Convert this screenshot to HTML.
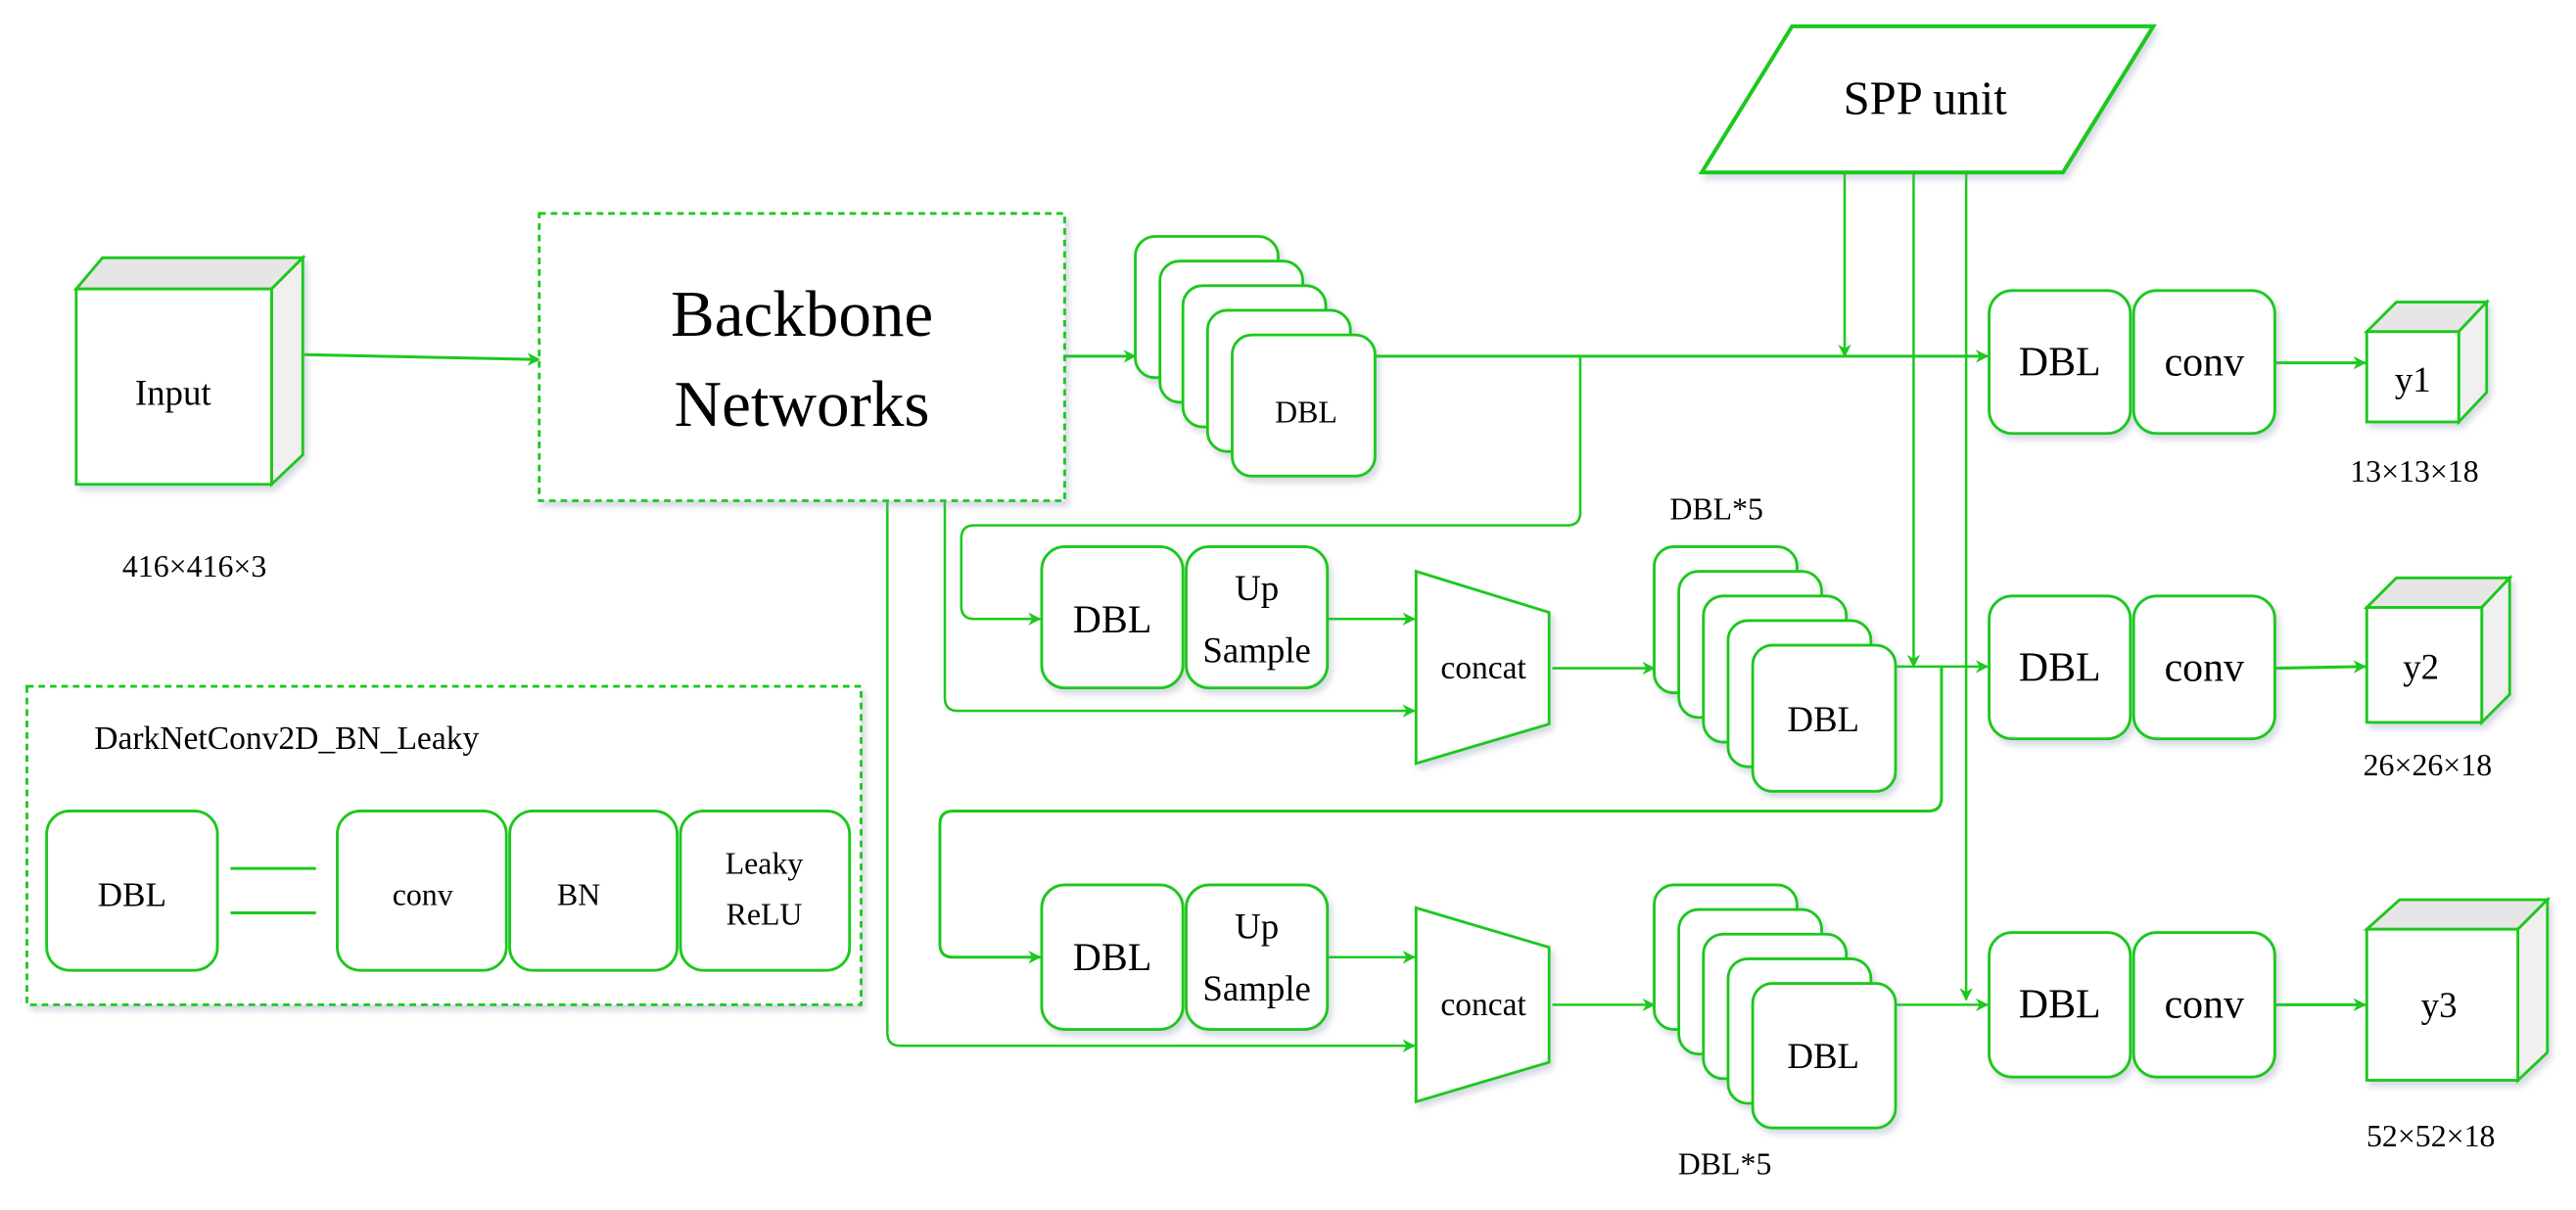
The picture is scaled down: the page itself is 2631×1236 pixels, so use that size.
<!DOCTYPE html>
<html><head><meta charset="utf-8"><style>
html,body{margin:0;padding:0;background:#fff;}
svg{display:block;}
svg text{font-family:"Liberation Serif","DejaVu Serif",serif;fill:#000;text-anchor:middle;dominant-baseline:central;}
</style></head><body>
<svg width="2631" height="1236" viewBox="0 0 1568 737" xmlns="http://www.w3.org/2000/svg" font-family="Liberation Serif, DejaVu Serif, serif">
<defs>
<marker id="a" viewBox="0 0 10 10" refX="9" refY="5" markerWidth="8" markerHeight="8" markerUnits="userSpaceOnUse" orient="auto"><path d="M0,0 L10,5 L0,10 L3,5 z" fill="#1ec81e"/></marker>
<filter id="sh" x="-10%" y="-10%" width="130%" height="130%"><feDropShadow dx="2" dy="3" stdDeviation="2" flood-color="#8890b0" flood-opacity="0.35"/></filter>
</defs>
<g fill="none" stroke="#1ec81e" stroke-width="1.5">
<line x1="185" y1="216" x2="328" y2="219" stroke-width="1.8" marker-end="url(#a)"/>
<line x1="648" y1="217" x2="691" y2="217" stroke-width="1.8" marker-end="url(#a)"/>
<line x1="837" y1="217" x2="1210" y2="217" stroke-width="1.8" marker-end="url(#a)"/>
<path d="M962,217 V312 Q962,320 954,320 H593 Q585,320 585,328 V369 Q585,377 593,377 H633" marker-end="url(#a)"/>
<line x1="1123" y1="105" x2="1123" y2="217" marker-end="url(#a)"/>
<line x1="1165" y1="105" x2="1165" y2="406" marker-end="url(#a)"/>
<line x1="1197" y1="105" x2="1197" y2="609" marker-end="url(#a)"/>
<line x1="808" y1="377" x2="861" y2="377" marker-end="url(#a)"/>
<path d="M575,305 V425 Q575,433 583,433 H861" marker-end="url(#a)"/>
<path d="M540,305 V629 Q540,637 548,637 H861" marker-end="url(#a)"/>
<line x1="945" y1="407" x2="1007" y2="407" marker-end="url(#a)"/>
<line x1="1154" y1="406" x2="1210" y2="406" marker-end="url(#a)"/>
<path d="M1182,406 V486 Q1182,494 1174,494 H580 Q572,494 572,502 V575 Q572,583 580,583 H633" stroke-width="1.8" marker-end="url(#a)"/>
<line x1="808" y1="583" x2="861" y2="583" marker-end="url(#a)"/>
<line x1="945" y1="612" x2="1007" y2="612" marker-end="url(#a)"/>
<line x1="1154" y1="612" x2="1210" y2="612" marker-end="url(#a)"/>
<line x1="1385" y1="221" x2="1440" y2="221" stroke-width="1.8" marker-end="url(#a)"/>
<line x1="1385" y1="407" x2="1440" y2="406" stroke-width="1.8" marker-end="url(#a)"/>
<line x1="1385" y1="612" x2="1440" y2="612" stroke-width="1.8" marker-end="url(#a)"/>
</g>
<g stroke="#1ec81e" stroke-width="1.7" fill="#fff" filter="url(#sh)">
<polygon points="46,176 62,157 184,157 165,176" fill="#e6e6e6"/>
<polygon points="165,176 184,157 184,277 165,295" fill="#f0f0f0"/>
<rect x="46" y="176" width="119" height="119"/>
<rect x="328" y="130" width="320" height="175" stroke-dasharray="4,3"/>
<rect x="691" y="144" width="87" height="86" rx="12"/>
<rect x="706" y="159" width="87" height="86" rx="12"/>
<rect x="720" y="174" width="87" height="86" rx="12"/>
<rect x="735" y="189" width="87" height="86" rx="12"/>
<rect x="750" y="204" width="87" height="86" rx="12"/>
<polygon points="1091,16 1311,16 1256,105 1036,105" stroke-width="2.4"/>
<rect x="1211" y="177" width="86" height="87" rx="14"/>
<rect x="1299" y="177" width="86" height="87" rx="14"/>
<rect x="1211" y="363" width="86" height="87" rx="14"/>
<rect x="1299" y="363" width="86" height="87" rx="14"/>
<rect x="1211" y="568" width="86" height="88" rx="14"/>
<rect x="1299" y="568" width="86" height="88" rx="14"/>
<polygon points="1441,202 1459,184 1514,184 1497,202" fill="#e6e6e6"/>
<polygon points="1497,202 1514,184 1514,239 1497,257" fill="#f0f0f0"/>
<rect x="1441" y="202" width="56" height="55"/>
<polygon points="1441,370 1459,352 1528,352 1511,370" fill="#e6e6e6"/>
<polygon points="1511,370 1528,352 1528,423 1511,440" fill="#f0f0f0"/>
<rect x="1441" y="370" width="70" height="70"/>
<polygon points="1441,566 1461,548 1551,548 1533,566" fill="#e6e6e6"/>
<polygon points="1533,566 1551,548 1551,641 1533,658" fill="#f0f0f0"/>
<rect x="1441" y="566" width="92" height="92"/>
<rect x="634" y="333" width="86" height="86" rx="14"/>
<rect x="722" y="333" width="86" height="86" rx="14"/>
<polygon points="862,348 943,373 943,441 862,465"/>
<rect x="1007" y="333" width="87" height="89" rx="12"/>
<rect x="1022" y="348" width="87" height="89" rx="12"/>
<rect x="1037" y="363" width="87" height="89" rx="12"/>
<rect x="1052" y="378" width="87" height="89" rx="12"/>
<rect x="1067" y="393" width="87" height="89" rx="12"/>
<rect x="634" y="539" width="86" height="88" rx="14"/>
<rect x="722" y="539" width="86" height="88" rx="14"/>
<polygon points="862,553 943,577 943,647 862,671"/>
<rect x="1007" y="539" width="87" height="88" rx="12"/>
<rect x="1022" y="554" width="87" height="88" rx="12"/>
<rect x="1037" y="569" width="87" height="88" rx="12"/>
<rect x="1052" y="584" width="87" height="88" rx="12"/>
<rect x="1067" y="599" width="87" height="88" rx="12"/>
<rect x="16" y="418" width="508" height="194" stroke-dasharray="4,3"/>
<rect x="28" y="494" width="104" height="97" rx="14"/>
<rect x="205" y="494" width="103" height="97" rx="14"/>
<rect x="310" y="494" width="102" height="97" rx="14"/>
<rect x="414" y="494" width="103" height="97" rx="14"/>
</g>
<g stroke="#1ec81e" stroke-width="1.8">
<line x1="140" y1="529" x2="192" y2="529"/>
<line x1="140" y1="556" x2="192" y2="556"/>
</g>
<text x="105" y="239" font-size="22">Input</text>
<text x="118" y="345" font-size="19">416×416×3</text>
<text x="488" y="191" font-size="40">Backbone</text>
<text x="488" y="246" font-size="40">Networks</text>
<text x="795" y="251" font-size="19">DBL</text>
<text x="1172" y="60" font-size="29">SPP unit</text>
<text x="1254" y="221" font-size="25">DBL</text>
<text x="1342" y="221" font-size="25">conv</text>
<text x="1254" y="407" font-size="25">DBL</text>
<text x="1342" y="407" font-size="25">conv</text>
<text x="1254" y="612" font-size="25">DBL</text>
<text x="1342" y="612" font-size="25">conv</text>
<text x="1469" y="231" font-size="22">y1</text>
<text x="1474" y="406" font-size="22">y2</text>
<text x="1485" y="612" font-size="22">y3</text>
<text x="1470" y="287" font-size="19">13×13×18</text>
<text x="1478" y="466" font-size="19">26×26×18</text>
<text x="1480" y="692" font-size="19">52×52×18</text>
<text x="677" y="377" font-size="24">DBL</text>
<text x="765" y="358" font-size="22">Up</text>
<text x="765" y="396" font-size="22">Sample</text>
<text x="903" y="407" font-size="20">concat</text>
<text x="1110" y="438" font-size="22">DBL</text>
<text x="1045" y="310" font-size="19">DBL*5</text>
<text x="677" y="583" font-size="24">DBL</text>
<text x="765" y="564" font-size="22">Up</text>
<text x="765" y="602" font-size="22">Sample</text>
<text x="903" y="612" font-size="20">concat</text>
<text x="1110" y="643" font-size="22">DBL</text>
<text x="1050" y="709" font-size="19">DBL*5</text>
<text x="57" y="450" font-size="20" text-anchor="start" style="text-anchor:start">DarkNetConv2D_BN_Leaky</text>
<text x="80" y="545" font-size="21">DBL</text>
<text x="257" y="545" font-size="19">conv</text>
<text x="352" y="545" font-size="19">BN</text>
<text x="465" y="526" font-size="19">Leaky</text>
<text x="465" y="557" font-size="19">ReLU</text>
</svg>
</body></html>
